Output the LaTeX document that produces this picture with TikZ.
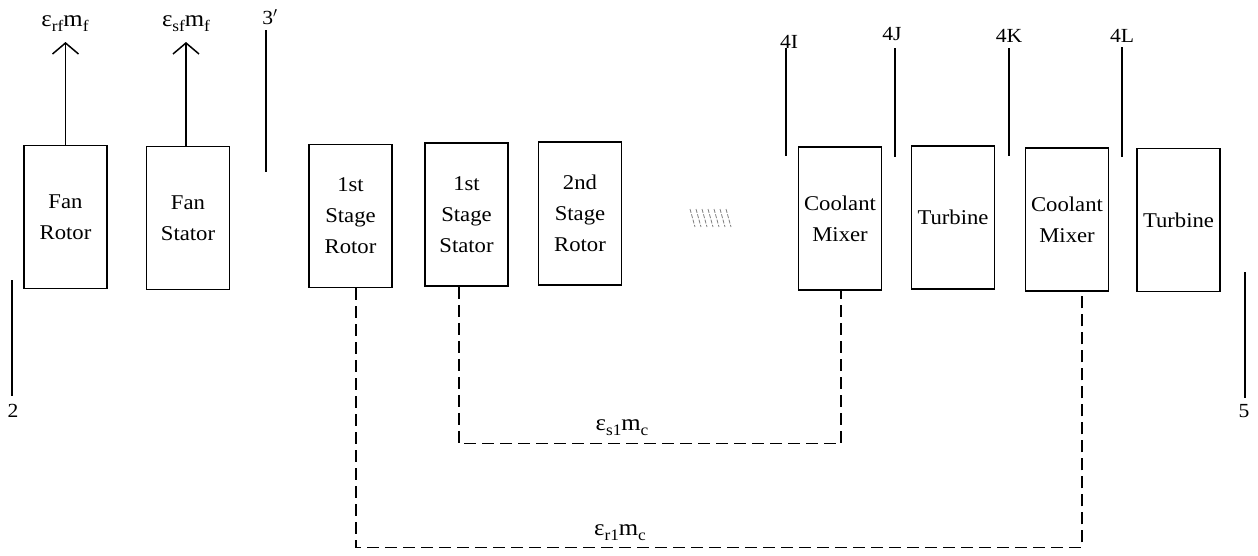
\documentclass[tikz,border=0pt]{standalone}
\usepackage{fontspec}
\setmainfont{Liberation Serif}
\newfontfamily\boxfont[FakeStretch=1.08]{Liberation Serif}
\usetikzlibrary{arrows.meta}
\tikzset{
  box/.style={draw, line width=1.5pt, minimum width=83pt, minimum height=143pt, inner sep=0pt,
    align=center, font=\boxfont\fontsize{21}{31}\selectfont},
  stn/.style={line width=1.4pt},
  stnlbl/.style={font=\boxfont\fontsize{20}{20}\selectfont, inner sep=1pt},
  eps/.style={font=\boxfont\fontsize{23}{23}\selectfont, inner sep=1pt},
  uparrow/.style={line width=1.5pt, -{Straight Barb[length=11pt,width=26pt,line width=1.5pt]}},
  dashln/.style={line width=1.4pt, dash pattern=on 12pt off 6pt},
  hatch/.style={gray, line width=0.8pt, dash pattern=on 4pt off 1.5pt}
}
\newcommand{\sbs}[1]{\raisebox{-5pt}{\fontsize{16}{16}\selectfont #1}}
\begin{document}
\begin{tikzpicture}[x=1pt,y=-1pt]
\useasboundingbox (0,0) rectangle (1258,555);
% boxes
\node[box] (fr) at (65.5,217) {Fan\\Rotor};
\node[box] (fs) at (188,218) {Fan\\Stator};
\node[box] (r1) at (350.5,216) {1st\\Stage\\Rotor};
\node[box] (s1) at (466.5,214.5) {1st\\Stage\\Stator};
\node[box] (r2) at (580,213.5) {2nd\\Stage\\Rotor};
\node[box] (cm1) at (840,218.5) {Coolant\\Mixer};
\node[box] (t1) at (953,217.5) {Turbine};
\node[box] (cm2) at (1067,219.5) {Coolant\\Mixer};
\node[box] (t2) at (1178.5,220) {Turbine};
% bleed arrows
\coordinate (frt) at (65.5,42);
\coordinate (fst) at (186,42);
\draw[uparrow] (fr.north -| frt) -- (frt);
\draw[uparrow] (fs.north -| fst) -- (fst);
\node[eps] (lfr) at (65,24) {ε\sbs{rf}m\sbs{f}};
\node[eps] (lfs) at (186,24) {ε\sbs{sf}m\sbs{f}};
% station lines
\coordinate (s2a) at (12,280); \coordinate (s2b) at (12,396);
\draw[stn] (s2a) -- (s2b);
\node[stnlbl] (l2) at (13,411) {2};
\coordinate (s3a) at (266,30); \coordinate (s3b) at (266,172);
\draw[stn] (s3a) -- (s3b);
\node[stnlbl] (l3) at (270,17) {3$'$};
\coordinate (s4ia) at (786,48); \coordinate (s4ib) at (786,156);
\draw[stn] (s4ia) -- (s4ib);
\node[stnlbl] (l4i) at (789,42) {4I};
\coordinate (s4ja) at (895,48); \coordinate (s4jb) at (895,157);
\draw[stn] (s4ja) -- (s4jb);
\node[stnlbl] (l4j) at (892,34) {4J};
\coordinate (s4ka) at (1009,48); \coordinate (s4kb) at (1009,156);
\draw[stn] (s4ka) -- (s4kb);
\node[stnlbl] (l4k) at (1009,36) {4K};
\coordinate (s4la) at (1122,47); \coordinate (s4lb) at (1122,157);
\draw[stn] (s4la) -- (s4lb);
\node[stnlbl] (l4l) at (1122,36) {4L};
\coordinate (s5a) at (1245,272); \coordinate (s5b) at (1245,398);
\draw[stn] (s5a) -- (s5b);
\node[stnlbl] (l5) at (1244,411) {5};
% hatch
\foreach \i in {0,...,6} {
  \draw[hatch] (690+6*\i,209) -- (695+6*\i,227);
}
% coolant lines
\draw[dashln] ([xshift=-7.5pt]s1.south) -- ++(0,157) -| ([xshift=1pt]cm1.south);
\draw[dashln] ([xshift=5.5pt]r1.south) -- ++(0,259) -| ([xshift=15pt]cm2.south);
\node[eps] (ls1) at (622,428) {ε\sbs{s1}m\sbs{c}};
\node[eps] (lr1) at (620,533) {ε\sbs{r1}m\sbs{c}};
\end{tikzpicture}
\end{document}
